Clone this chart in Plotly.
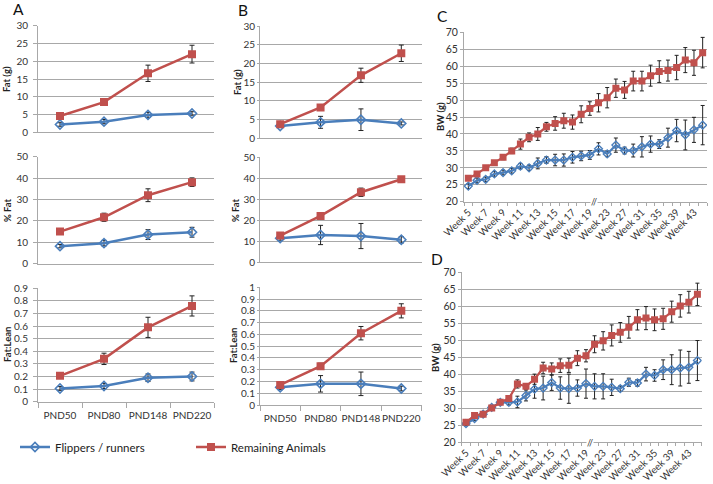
import plotly.graph_objects as go

W, H = 713, 484

# ---------------- data ----------------
pnd = ["PND50", "PND80", "PND148", "PND220"]

# Panel A
a_fat_flip = [2.2, 3.0, 4.9, 5.3]
a_fat_flip_err = [0.5, 0.6, 0.7, 0.5]
a_fat_rem = [4.6, 8.5, 16.6, 22.0]
a_fat_rem_err = [0.3, 0.8, 2.3, 2.5]
a_pct_flip = [8.2, 9.6, 13.6, 14.7]
a_pct_flip_err = [0.8, 1.3, 2.3, 2.3]
a_pct_rem = [15.0, 21.7, 32.0, 38.1]
a_pct_rem_err = [0.6, 1.9, 3.0, 2.0]
a_fl_flip = [0.105, 0.125, 0.19, 0.20]
a_fl_flip_err = [0.015, 0.02, 0.03, 0.035]
a_fl_rem = [0.205, 0.34, 0.59, 0.76]
a_fl_rem_err = [0.01, 0.045, 0.08, 0.08]

# Panel B
b_fat_flip = [3.2, 4.2, 4.9, 3.9]
b_fat_flip_err = [0.4, 1.6, 2.9, 0.4]
b_fat_rem = [3.7, 8.2, 16.8, 22.7]
b_fat_rem_err = [0.4, 0.5, 1.9, 2.2]
b_pct_flip = [11.4, 12.9, 12.4, 10.6]
b_pct_flip_err = [1.0, 4.6, 6.0, 1.5]
b_pct_rem = [12.6, 22.0, 33.3, 39.5]
b_pct_rem_err = [1.3, 1.5, 2.0, 1.3]
b_fl_flip = [0.15, 0.18, 0.18, 0.14]
b_fl_flip_err = [0.02, 0.07, 0.10, 0.02]
b_fl_rem = [0.17, 0.33, 0.61, 0.80]
b_fl_rem_err = [0.02, 0.025, 0.057, 0.06]

# Panels C and D (body weight by week)
weeks = ["Week 5", "Week 6", "Week 7", "Week 8", "Week 9", "Week 10", "Week 11",
         "Week 12", "Week 13", "Week 14", "Week 15", "Week 16", "Week 17", "Week 18",
         "Week 19", "Week 21", "Week 23", "Week 25", "Week 27", "Week 29", "Week 31",
         "Week 33", "Week 35", "Week 37", "Week 39", "Week 41", "Week 43", "Week 45"]
week_ticks = ["Week 5", "Week 7", "Week 9", "Week 11", "Week 13", "Week 15", "Week 17",
              "Week 19", "Week 23", "Week 27", "Week 31", "Week 35", "Week 39", "Week 43"]

c_flip = [24.6, 26.3, 26.6, 28.2, 28.6, 29.1, 30.5, 30.0, 31.3, 32.3, 32.3, 32.3, 33.1, 33.5,
          33.8, 35.6, 34.1, 36.7, 35.1, 35.1, 36.2, 37.0, 37.0, 38.9, 41.0, 39.7, 41.2, 42.6]
c_flip_err = [0.7, 0.7, 0.7, 0.7, 0.7, 0.7, 0.8, 0.8, 1.6, 1.0, 1.7, 1.8, 1.7, 1.4,
              1.3, 1.8, 0.8, 2.1, 1.0, 1.9, 3.0, 2.4, 1.3, 2.8, 3.3, 4.4, 3.7, 5.8]
c_rem = [26.9, 28.2, 30.0, 31.5, 33.1, 35.0, 37.0, 39.0, 40.0, 42.1, 43.1, 43.9, 43.5, 45.8,
         47.5, 49.2, 50.7, 53.5, 53.0, 55.6, 55.6, 57.2, 58.4, 58.7, 59.6, 61.8, 61.0, 64.0]
c_rem_err = [0.6, 0.6, 0.6, 0.6, 0.7, 0.8, 1.5, 1.3, 1.9, 1.3, 2.0, 2.2, 2.1, 2.5,
             2.0, 2.7, 3.0, 2.7, 2.5, 2.9, 2.9, 3.1, 3.2, 3.1, 3.6, 3.7, 3.7, 4.5]

d_flip = [25.4, 26.9, 28.2, 30.2, 31.7, 31.7, 31.8, 33.7, 35.6, 35.9, 37.5, 35.9, 35.7, 35.9,
          37.2, 36.4, 36.4, 36.1, 35.7, 37.6, 37.4, 40.0, 39.6, 41.3, 41.3, 41.8, 42.0, 44.0]
d_flip_err = [0.6, 0.6, 0.6, 0.6, 0.6, 0.8, 1.7, 1.6, 2.7, 3.5, 2.3, 3.3, 4.3, 2.4,
              4.3, 3.7, 3.7, 2.4, 0.8, 1.2, 1.0, 2.0, 1.7, 2.9, 4.4, 5.3, 4.7, 5.9]
d_rem = [25.8, 27.8, 28.2, 30.0, 31.7, 32.8, 37.1, 36.4, 38.5, 41.8, 41.5, 42.5, 42.6, 44.7,
         45.4, 48.8, 49.8, 51.4, 52.3, 53.8, 56.0, 56.5, 56.0, 56.3, 58.4, 60.1, 61.2, 63.5]
d_rem_err = [0.5, 0.5, 0.5, 0.5, 0.5, 0.5, 1.2, 0.8, 1.5, 1.7, 1.8, 2.0, 2.1, 2.2,
             1.8, 2.5, 2.7, 3.1, 2.9, 3.2, 3.0, 3.4, 3.2, 3.1, 3.1, 3.3, 3.2, 3.3]

series_names = ["Flippers / runners", "Remaining Animals"]

# ---------------- style ----------------
BLUE = "#4A7EBB"
RED = "#C0504D"
GRID = "#a8a8a8"
FONT = "Lato"
TXT = "#333333"


def xd(l, r):
    return [l / W, r / W]


def yd(top, bottom):
    return [1 - bottom / H, 1 - top / H]


fig = go.Figure()

# id, x domain(px), y domain(px top,bottom), y range, dtick, data, bottom row?, y ticklen, label standoff
small = [
    (1, (38, 214), (25.7, 132.3), [0, 30], 5, (a_fat_flip, a_fat_flip_err, a_fat_rem, a_fat_rem_err), False, 4, 3),
    (2, (38, 214), (156.7, 263.7), [0, 50], 10, (a_pct_flip, a_pct_flip_err, a_pct_rem, a_pct_rem_err), False, 4, 3),
    (3, (38, 214), (288.3, 401.7), [0, 0.9], 0.1, (a_fl_flip, a_fl_flip_err, a_fl_rem, a_fl_rem_err), True, 4, 3),
    (4, (260, 421.5), (26, 138), [0, 30], 5, (b_fat_flip, b_fat_flip_err, b_fat_rem, b_fat_rem_err), False, 2, 0),
    (5, (260, 421.5), (157.3, 262), [0, 50], 10, (b_pct_flip, b_pct_flip_err, b_pct_rem, b_pct_rem_err), False, 2, 0),
    (6, (260, 421.5), (287.3, 405), [0, 1], 0.1, (b_fl_flip, b_fl_flip_err, b_fl_rem, b_fl_rem_err), True, 2, 0),
]

layout = {}
for pid, (xl, xr), (yt, yb), yr, dt, (fv, fe, rv, re_), bottom, tl, so in small:
    xa = "x" if pid == 1 else f"x{pid}"
    ya = "y" if pid == 1 else f"y{pid}"
    fig.add_trace(go.Scatter(
        x=pnd, y=fv, xaxis=xa, yaxis=ya, name=series_names[0], mode="lines+markers",
        line=dict(color=BLUE, width=2.5),
        marker=dict(symbol="diamond-open", size=7, color=BLUE, line=dict(color=BLUE, width=1.6)),
        error_y=dict(type="data", array=fe, color="#222222", thickness=1, width=2.5),
        showlegend=(pid == 1), legendrank=1))
    fig.add_trace(go.Scatter(
        x=pnd, y=rv, xaxis=xa, yaxis=ya, name=series_names[1], mode="lines+markers",
        line=dict(color=RED, width=2.5),
        marker=dict(symbol="square", size=8, color=RED),
        error_y=dict(type="data", array=re_, color="#222222", thickness=1, width=2.5),
        showlegend=(pid == 1), legendrank=2))
    layout[f"xaxis{pid if pid > 1 else ''}"] = dict(
        domain=xd(xl, xr), anchor=ya, type="category", categoryarray=pnd,
        categoryorder="array", range=[-0.5, 3.5], automargin=False,
        showline=True, linecolor=GRID, linewidth=1, showgrid=False, zeroline=False,
        tickson="boundaries", ticks="outside" if bottom else "", ticklen=5, tickcolor=GRID,
        ticklabelstandoff=4,
        tickangle=0, showticklabels=bottom, tickfont=dict(family=FONT, size=10, color=TXT))
    layout[f"yaxis{pid if pid > 1 else ''}"] = dict(
        domain=yd(yt, yb), anchor=xa, range=yr, dtick=dt, tick0=0, automargin=False,
        showline=True, linecolor=GRID, linewidth=1, showgrid=True, gridcolor=GRID,
        gridwidth=1, zeroline=False, ticks="outside", ticklen=tl, tickcolor=GRID,
        ticklabelstandoff=so,
        tickfont=dict(family=FONT, size=10, color=TXT))

# big panels C and D
xi = list(range(len(weeks)))
tick_idx = [weeks.index(w) for w in week_ticks]
bounds = [i - 0.5 for i in range(len(weeks) + 1)]
big = [
    (7, (464, 707), (32.3, 201.7), (c_flip, c_flip_err, c_rem, c_rem_err)),
    (8, (461.7, 701.7), (272.3, 442), (d_flip, d_flip_err, d_rem, d_rem_err)),
]
for pid, (xl, xr), (yt, yb), (fv, fe, rv, re_) in big:
    xa, ya = f"x{pid}", f"y{pid}"
    fig.add_trace(go.Scatter(
        x=xi, y=fv, xaxis=xa, yaxis=ya, name=series_names[0], mode="lines+markers",
        line=dict(color=BLUE, width=2.2),
        marker=dict(symbol="diamond-open", size=6, color=BLUE, line=dict(color=BLUE, width=1.4)),
        error_y=dict(type="data", array=fe, color="#222222", thickness=1, width=2),
        showlegend=False))
    fig.add_trace(go.Scatter(
        x=xi, y=rv, xaxis=xa, yaxis=ya, name=series_names[1], mode="lines+markers",
        line=dict(color=RED, width=2.2),
        marker=dict(symbol="square", size=7, color=RED),
        error_y=dict(type="data", array=re_, color="#222222", thickness=1, width=2),
        showlegend=False))
    layout[f"xaxis{pid}"] = dict(
        domain=xd(xl, xr), anchor=ya, range=[-0.5, len(weeks) - 0.5], automargin=False,
        tickmode="array", tickvals=tick_idx, ticktext=week_ticks, ticks="", tickangle=-45,
        showline=True, linecolor=GRID, linewidth=1, showgrid=False, zeroline=False,
        tickfont=dict(family=FONT, size=10, color=TXT),
        minor=dict(tickmode="array", tickvals=bounds, ticks="outside", ticklen=3,
                   tickcolor=GRID, showgrid=False))
    layout[f"yaxis{pid}"] = dict(
        domain=yd(yt, yb), anchor=xa, range=[20, 70], dtick=5, tick0=0, automargin=False,
        showline=True, linecolor=GRID, linewidth=1, showgrid=True, gridcolor=GRID,
        gridwidth=1, zeroline=False, ticks="outside", ticklen=3, tickcolor=GRID,
        tickfont=dict(family=FONT, size=10.5, color=TXT))

# annotations: panel letters, axis titles, axis break marks
ann = []
for letter, px, py in [("A", 18, 9.5), ("B", 243, 10), ("C", 443, 16), ("D", 437, 259)]:
    ann.append(dict(text=letter, x=px / W, y=1 - py / H, xref="paper", yref="paper",
                    showarrow=False, font=dict(family=FONT, size=15.5, color="#111111"),
                    xanchor="center", yanchor="middle"))
for title, px, py in [("Fat (g)", 7, 79), ("% Fat", 7, 210), ("Fat:Lean", 7, 345),
                      ("Fat (g)", 237, 82), ("% Fat", 235, 210), ("Fat:Lean", 233, 346),
                      ("BW (g)", 440, 117), ("BW (g)", 435, 357)]:
    ann.append(dict(text=f"<b>{title}</b>", x=px / W, y=1 - py / H, xref="paper", yref="paper",
                    showarrow=False, textangle=-90, font=dict(family=FONT, size=9.5, color="#222222"),
                    xanchor="center", yanchor="middle"))
for pid in (7, 8):
    ann.append(dict(text="//", x=weeks.index("Week 19") + 0.5, y=20, xref=f"x{pid}", yref=f"y{pid}",
                    showarrow=False, font=dict(family=FONT, size=9, color="#333333"),
                    bgcolor="white", xanchor="center", yanchor="middle", borderpad=0))

fig.update_layout(
    width=W, height=H, margin=dict(l=0, r=0, t=0, b=0, autoexpand=False),
    paper_bgcolor="white", plot_bgcolor="white",
    annotations=ann,
    legend=dict(orientation="h", x=15 / W, y=1 - 447 / H, xanchor="left", yanchor="middle",
                font=dict(family=FONT, size=11.5, color="#222222"),
                entrywidth=131, entrywidthmode="pixels", bgcolor="rgba(0,0,0,0)",
                itemwidth=30, tracegroupgap=0),
    **layout,
)

fig.write_html("out.html", config={"displayModeBar": False},
               post_script="document.body.style.margin='0';document.body.style.overflow='hidden';")
